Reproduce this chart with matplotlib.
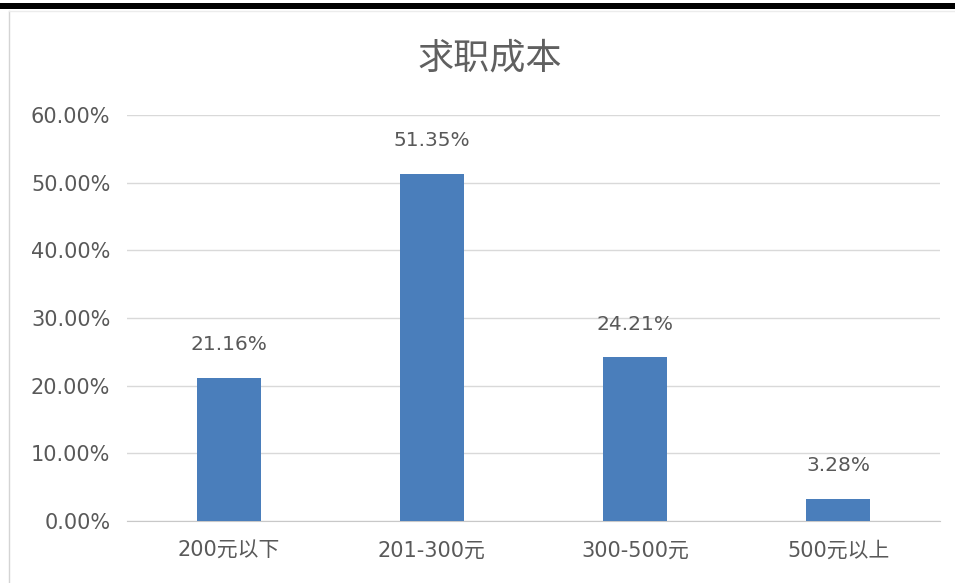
import matplotlib
matplotlib.use("Agg")
import matplotlib.pyplot as plt
from matplotlib.patches import Rectangle
from matplotlib.lines import Line2D

plt.rcParams['font.family'] = ['DejaVu Sans', 'Noto Sans CJK SC']

categories = ['200元以下', '201-300元', '300-500元', '500元以上']
values = [21.16, 51.35, 24.21, 3.28]
yticks = [0, 10, 20, 30, 40, 50, 60]

bar_color = '#4a7ebb'
text_color = '#595959'

W, H = 955, 583
fig = plt.figure(figsize=(9.55, 5.83), dpi=100)

# screenshot frame: black line on top, thin grey border on the left
fig.patches.append(Rectangle((0, 1 - 9 / H), 1, 6 / H, transform=fig.transFigure,
                             facecolor='black', edgecolor='none'))
fig.lines.append(Line2D([8.5 / W, 8.5 / W], [0, 1 - 11 / H], transform=fig.transFigure,
                        color='#d4d4d4', linewidth=1))
fig.lines.append(Line2D([8.5 / W, 1], [1 - 11 / H, 1 - 11 / H], transform=fig.transFigure,
                        color='#ececec', linewidth=1))

ax = fig.add_axes([127 / W, 1 - 521 / H, 813 / W, 406 / H])
x = range(len(categories))
ax.bar(x, values, width=0.315, color=bar_color, zorder=3)

for xi, v in zip(x, values):
    ax.text(xi, v + 4.9, f'{v:.2f}%', ha='center', va='center',
            fontsize=14.5, color=text_color)

ax.set_xlim(-0.5, 3.5)
ax.set_ylim(0, 60)
ax.set_yticks(yticks)
ax.set_yticklabels([f'{t:.2f}%' for t in yticks], fontsize=15, color=text_color)
ax.set_xticks(list(x))
ax.set_xticklabels(categories, fontsize=15, color=text_color)
ax.tick_params(axis='y', length=0, pad=12)
ax.tick_params(axis='x', length=0, pad=14)

ax.grid(axis='y', color='#d9d9d9', linewidth=1, zorder=0)
for s in ['top', 'right', 'left']:
    ax.spines[s].set_visible(False)
ax.spines['bottom'].set_color('#c8c8c8')

fig.text(490 / W, 1 - 58 / H, '求职成本', ha='center', va='center',
         fontsize=26, color='#606060', family=['Noto Sans CJK SC'], weight='light')

fig.savefig('out.png', dpi=100)
